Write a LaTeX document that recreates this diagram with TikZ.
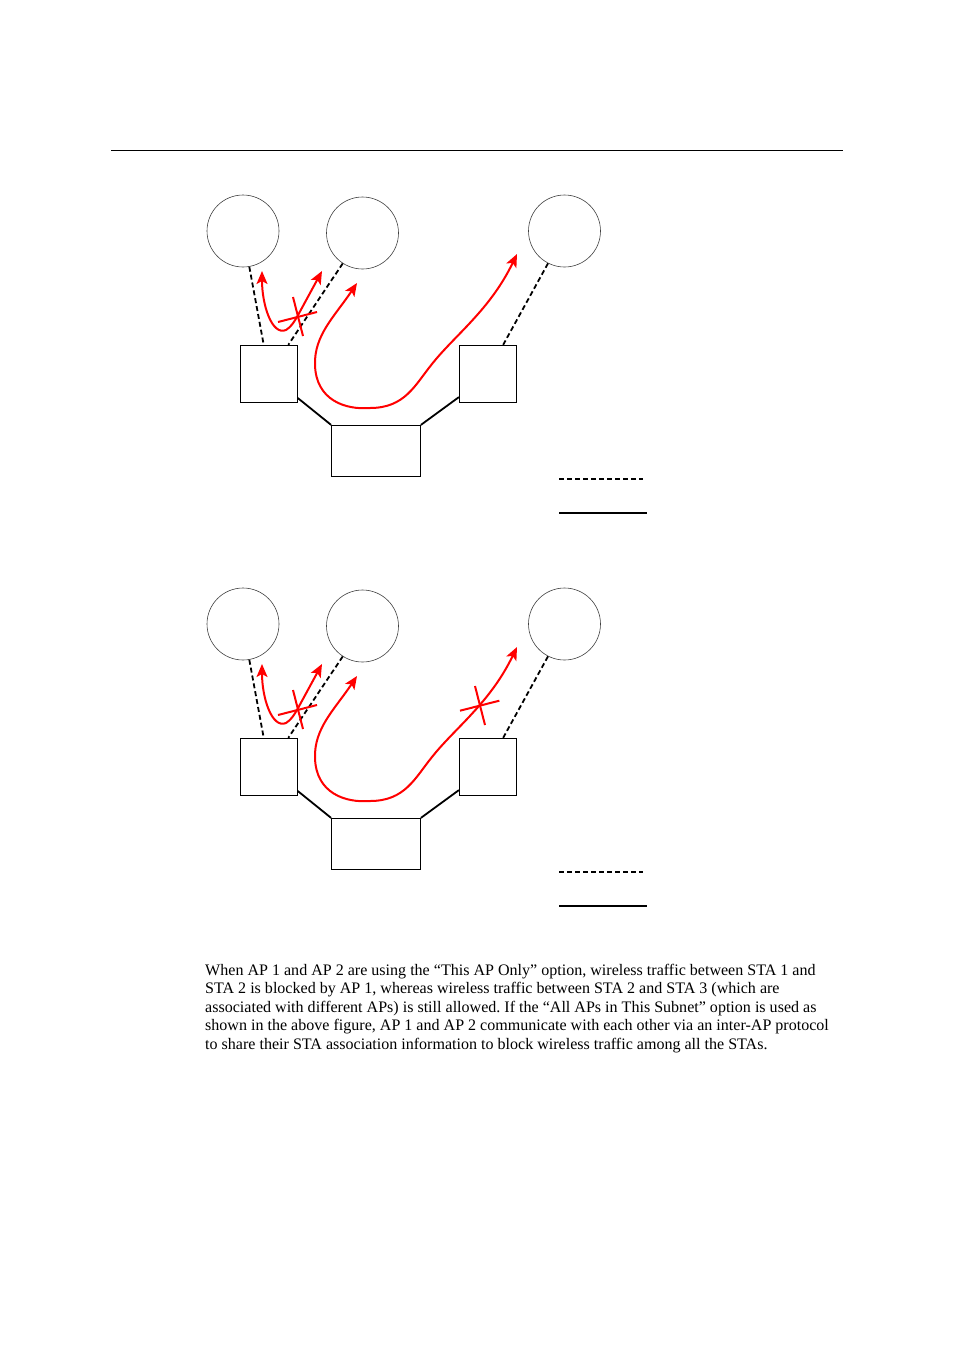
\documentclass[tikz,border=0pt]{standalone}
\usepackage{fontspec}
\setmainfont{Liberation Serif}
\usetikzlibrary{arrows.meta}
\frenchspacing
\tikzset{
	sta/.style={circle, draw=black!75, line width=0.6pt, minimum size=72pt, inner sep=0pt},
	apbox/.style={rectangle, draw, line width=0.8pt, minimum width=57pt, minimum height=57pt, inner sep=0pt},
	swbox/.style={rectangle, draw, line width=0.8pt, minimum width=89pt, minimum height=51pt, inner sep=0pt},
	wireless/.style={line width=1.8pt, dash pattern=on 5pt off 3pt},
	wired/.style={line width=1.8pt},
	flow/.style={red, line width=2pt, {Stealth[length=13pt,width=11pt,inset=3pt]}-{Stealth[length=13pt,width=11pt,inset=3pt]}},
	blockmark/.style={red, line width=2pt},
	para/.style={anchor=base west, inner sep=0pt, font=\fontsize{16.05}{18.4}\selectfont}
}

\begin{document}
\begin{tikzpicture}[x=1pt, y=-1pt]
			%%%%% START %%%%%
			\useasboundingbox (0, 0) rectangle (954, 1350);
			
			\draw[line width=1pt] (111, 150.5) -- (843, 150.5);
			
			%% upper figure
			\node[sta] (sta1a) at (243, 231) {};
			\node[sta] (sta2a) at (362.5, 233) {};
			\node[sta] (sta3a) at (564.5, 231) {};
			\node[apbox] (ap1a) at (268.8, 373.7) {};
			\node[apbox] (ap2a) at (487.8, 373.7) {};
			\node[swbox] (swa) at (376, 450.8) {};
			
			\draw[wireless] (sta1a.-80) -- (ap1a.100);
			\draw[wireless] (sta2a.237) -- (ap1a.56);
			\draw[wireless] (sta3a.243) -- (ap2a.62);
			\draw[wired] (ap1a.-40) -- (swa.north west);
			\draw[wired] (ap2a.219) -- (swa.north east);
			
			\draw[flow] (262, 271) .. controls (262, 305) and (272, 336) .. (286, 330) .. controls (291, 327) and (294, 322) .. (297, 317) -- (322, 271);
			\draw[blockmark] (278, 322) -- (317, 312);
			\draw[blockmark] (293, 297) -- (303, 336);
			
			\draw[flow] (357, 283) .. controls (335, 316) and (314, 335) .. (315, 365) .. controls (316, 400) and (345, 410) .. (370, 408) .. controls (405, 408) and (415, 385) .. (432, 364) .. controls (455, 335) and (490, 310) .. (517, 254);
			
			\draw[wireless] (559, 479) -- (643, 479);
			\draw[wired] (559, 513) -- (647, 513);
			
			%% lower figure
			\begin{scope}[yshift=-393pt]
			\node[sta] (sta1b) at (243, 231) {};
			\node[sta] (sta2b) at (362.5, 233) {};
			\node[sta] (sta3b) at (564.5, 231) {};
			\node[apbox] (ap1b) at (268.8, 373.7) {};
			\node[apbox] (ap2b) at (487.8, 373.7) {};
			\node[swbox] (swb) at (376, 450.8) {};
			
			\draw[wireless] (sta1b.-80) -- (ap1b.100);
			\draw[wireless] (sta2b.237) -- (ap1b.56);
			\draw[wireless] (sta3b.243) -- (ap2b.62);
			\draw[wired] (ap1b.-40) -- (swb.north west);
			\draw[wired] (ap2b.219) -- (swb.north east);
			
			\draw[flow] (262, 271) .. controls (262, 305) and (272, 336) .. (286, 330) .. controls (291, 327) and (294, 322) .. (297, 317) -- (322, 271);
			\draw[blockmark] (278, 322) -- (317, 312);
			\draw[blockmark] (293, 297) -- (303, 336);
			
			\draw[flow] (357, 283) .. controls (335, 316) and (314, 335) .. (315, 365) .. controls (316, 400) and (345, 410) .. (370, 408) .. controls (405, 408) and (415, 385) .. (432, 364) .. controls (455, 335) and (490, 310) .. (517, 254);
			\draw[blockmark] (460, 317.7) -- (499.3, 307.7);
			\draw[blockmark] (475, 293) -- (485, 332);
			
			\draw[wireless] (559, 479) -- (643, 479);
			\draw[wired] (559, 513) -- (647, 513);
			\end{scope}
			
			%% caption text
			\node[para] (txt1) at (205, 975.5) {When AP 1 and AP 2 are using the “This AP Only” option, wireless traffic between STA 1 and};
			\node[para] (txt2) at (205, 993.9) {STA 2 is blocked by AP 1, whereas wireless traffic between STA 2 and STA 3 (which are};
			\node[para] (txt3) at (205, 1012.3) {associated with different APs) is still allowed. If the “All APs in This Subnet” option is used as};
			\node[para] (txt4) at (205, 1030.7) {shown in the above figure, AP 1 and AP 2 communicate with each other via an inter-AP protocol};
			\node[para] (txt5) at (205, 1049.1) {to share their STA association information to block wireless traffic among all the STAs.};
			
			%%%%% END %%%%%
\end{tikzpicture}
\end{document}
